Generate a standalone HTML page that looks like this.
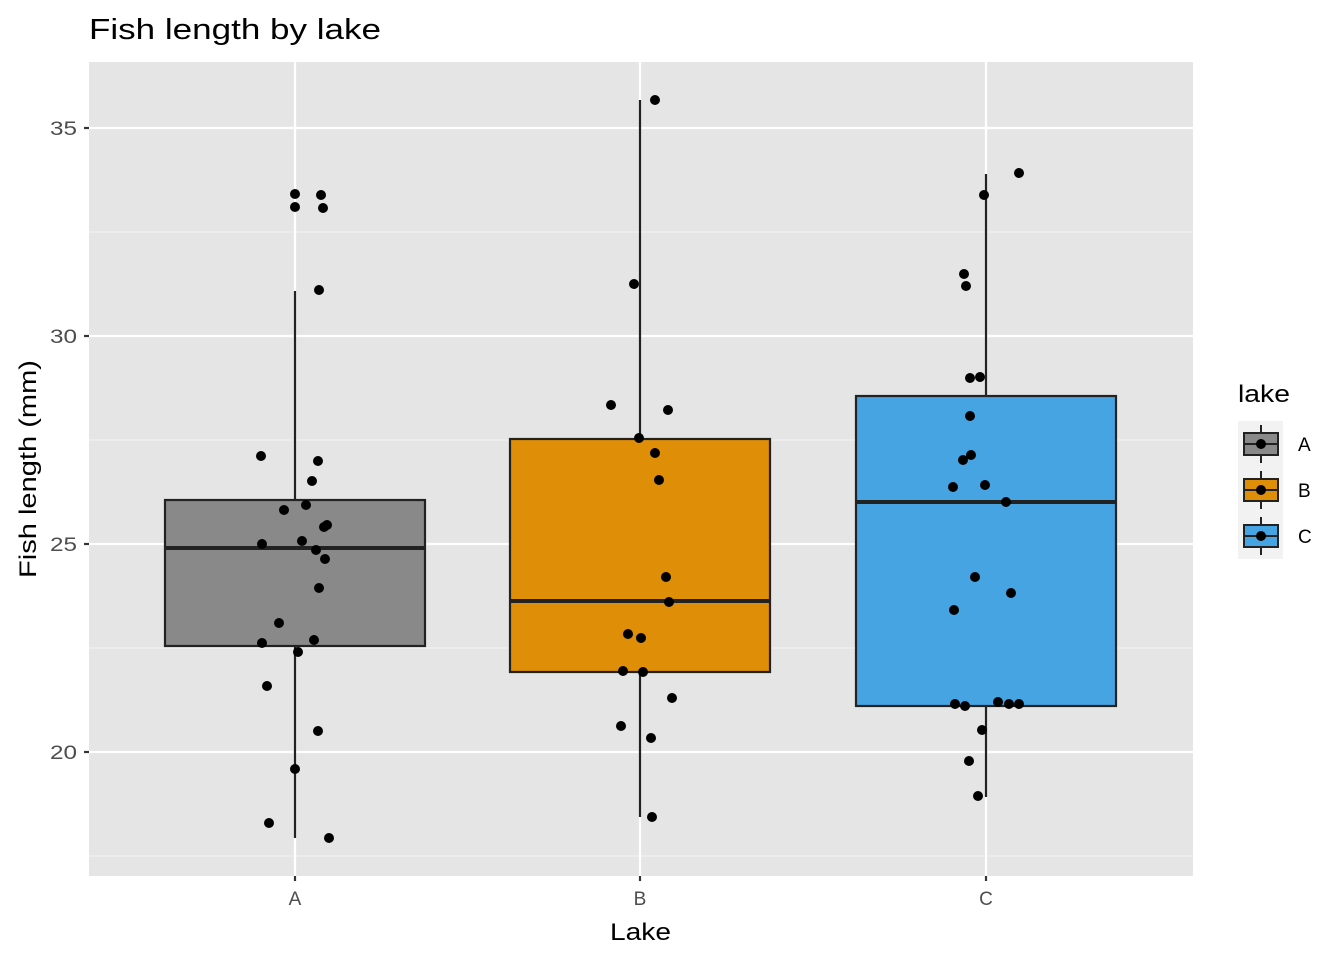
<!DOCTYPE html>
<html><head><meta charset="utf-8"><style>body{margin:0;background:#fff}svg{display:block}text{font-family:"Liberation Sans",Arial,sans-serif}</style></head><body>
<svg width="1344" height="960" viewBox="0 0 1344 960" xmlns="http://www.w3.org/2000/svg">
<rect width="1344" height="960" fill="#fff"/>
<rect x="89" y="62" width="1104" height="814" fill="#e5e5e5"/>
<g stroke="#f2f2f2" stroke-width="1.1">
<line x1="89" x2="1193" y1="232" y2="232"/><line x1="89" x2="1193" y1="440" y2="440"/><line x1="89" x2="1193" y1="648" y2="648"/><line x1="89" x2="1193" y1="856" y2="856"/></g>
<g stroke="#fff" stroke-width="2.2">
<line x1="89" x2="1193" y1="128" y2="128"/><line x1="89" x2="1193" y1="336" y2="336"/><line x1="89" x2="1193" y1="544" y2="544"/><line x1="89" x2="1193" y1="752" y2="752"/>
<line x1="295" x2="295" y1="62" y2="876"/><line x1="640" x2="640" y1="62" y2="876"/><line x1="986" x2="986" y1="62" y2="876"/></g>
<g stroke="#222" stroke-width="2.2">
<line x1="295" x2="295" y1="291" y2="500"/><line x1="295" x2="295" y1="646" y2="838"/>
<rect x="165" y="500" width="260" height="146" fill="#898989"/><line x1="165" x2="425" y1="548" y2="548" stroke-width="4"/>
<line x1="640" x2="640" y1="100" y2="439"/><line x1="640" x2="640" y1="672" y2="817"/>
<rect x="510" y="439" width="260" height="233" fill="#df8e07"/><line x1="510" x2="770" y1="601" y2="601" stroke-width="4"/>
<line x1="986" x2="986" y1="174" y2="396"/><line x1="986" x2="986" y1="706" y2="797"/>
<rect x="856" y="396" width="260" height="310" fill="#47a4e3"/><line x1="856" x2="1116" y1="502" y2="502" stroke-width="4"/>
</g>
<g fill="#000">
<circle cx="295" cy="194" r="5"/><circle cx="321" cy="195" r="5"/><circle cx="295" cy="207" r="5"/><circle cx="323" cy="208" r="5"/><circle cx="319" cy="290" r="5"/><circle cx="261" cy="456" r="5"/><circle cx="318" cy="461" r="5"/><circle cx="312" cy="481" r="5"/><circle cx="284" cy="510" r="5"/><circle cx="306" cy="505" r="5"/><circle cx="327" cy="525" r="5"/><circle cx="324" cy="527" r="5"/><circle cx="262" cy="544" r="5"/><circle cx="302" cy="541" r="5"/><circle cx="316" cy="550" r="5"/><circle cx="325" cy="559" r="5"/><circle cx="319" cy="588" r="5"/><circle cx="279" cy="623" r="5"/><circle cx="314" cy="640" r="5"/><circle cx="262" cy="643" r="5"/><circle cx="298" cy="652" r="5"/><circle cx="267" cy="686" r="5"/><circle cx="318" cy="731" r="5"/><circle cx="295" cy="769" r="5"/><circle cx="269" cy="823" r="5"/><circle cx="329" cy="838" r="5"/>
<circle cx="655" cy="100" r="5"/><circle cx="634" cy="284" r="5"/><circle cx="611" cy="405" r="5"/><circle cx="668" cy="410" r="5"/><circle cx="639" cy="438" r="5"/><circle cx="655" cy="453" r="5"/><circle cx="659" cy="480" r="5"/><circle cx="666" cy="577" r="5"/><circle cx="669" cy="602" r="5"/><circle cx="628" cy="634" r="5"/><circle cx="641" cy="638" r="5"/><circle cx="623" cy="671" r="5"/><circle cx="643" cy="672" r="5"/><circle cx="672" cy="698" r="5"/><circle cx="621" cy="726" r="5"/><circle cx="651" cy="738" r="5"/><circle cx="652" cy="817" r="5"/>
<circle cx="1019" cy="173" r="5"/><circle cx="984" cy="195" r="5"/><circle cx="964" cy="274" r="5"/><circle cx="966" cy="286" r="5"/><circle cx="970" cy="378" r="5"/><circle cx="980" cy="377" r="5"/><circle cx="970" cy="416" r="5"/><circle cx="971" cy="455" r="5"/><circle cx="963" cy="460" r="5"/><circle cx="953" cy="487" r="5"/><circle cx="985" cy="485" r="5"/><circle cx="1006" cy="502" r="5"/><circle cx="975" cy="577" r="5"/><circle cx="1011" cy="593" r="5"/><circle cx="954" cy="610" r="5"/><circle cx="955" cy="704" r="5"/><circle cx="965" cy="706" r="5"/><circle cx="998" cy="702" r="5"/><circle cx="1009" cy="704" r="5"/><circle cx="1019" cy="704" r="5"/><circle cx="982" cy="730" r="5"/><circle cx="969" cy="761" r="5"/><circle cx="978" cy="796" r="5"/>
</g>
<g stroke="#333" stroke-width="2.2">
<line x1="84" x2="89" y1="128" y2="128"/><line x1="84" x2="89" y1="336" y2="336"/><line x1="84" x2="89" y1="544" y2="544"/><line x1="84" x2="89" y1="752" y2="752"/>
<line x1="295" x2="295" y1="876" y2="881"/><line x1="640" x2="640" y1="876" y2="881"/><line x1="986" x2="986" y1="876" y2="881"/></g>
<g fill="#4d4d4d" font-size="19">
<text x="50" y="135" textLength="27" lengthAdjust="spacingAndGlyphs">35</text><text x="50" y="343" textLength="27" lengthAdjust="spacingAndGlyphs">30</text><text x="50" y="551" textLength="27" lengthAdjust="spacingAndGlyphs">25</text><text x="50" y="759" textLength="27" lengthAdjust="spacingAndGlyphs">20</text></g>
<g fill="#4d4d4d" font-size="19" text-anchor="middle">
<text x="295" y="905">A</text><text x="640" y="905">B</text><text x="986" y="905">C</text></g>
<text x="610" y="940" font-size="24" textLength="61" lengthAdjust="spacingAndGlyphs">Lake</text>
<text transform="translate(36,578) rotate(-90)" font-size="24" textLength="218" lengthAdjust="spacingAndGlyphs">Fish length (mm)</text>
<text x="89" y="39" font-size="29" textLength="292" lengthAdjust="spacingAndGlyphs">Fish length by lake</text>
<text x="1238" y="402" font-size="24" textLength="52" lengthAdjust="spacingAndGlyphs">lake</text>
<rect x="1238" y="421" width="45" height="138" fill="#f2f2f2"/>
<g stroke="#222" stroke-width="2">
<line x1="1261" x2="1261" y1="425" y2="463"/><rect x="1244" y="433" width="34" height="22" fill="#898989"/><line x1="1244" x2="1278" y1="444" y2="444"/>
<line x1="1261" x2="1261" y1="471" y2="509"/><rect x="1244" y="479" width="34" height="22" fill="#df8e07"/><line x1="1244" x2="1278" y1="490" y2="490"/>
<line x1="1261" x2="1261" y1="517" y2="555"/><rect x="1244" y="525" width="34" height="22" fill="#47a4e3"/><line x1="1244" x2="1278" y1="536" y2="536"/>
</g>
<g fill="#000"><circle cx="1261" cy="444" r="5"/><circle cx="1261" cy="490" r="5"/><circle cx="1261" cy="536" r="5"/></g>
<g font-size="19"><text x="1298" y="451">A</text><text x="1298" y="497">B</text><text x="1298" y="543">C</text></g>
</svg>
</body></html>
